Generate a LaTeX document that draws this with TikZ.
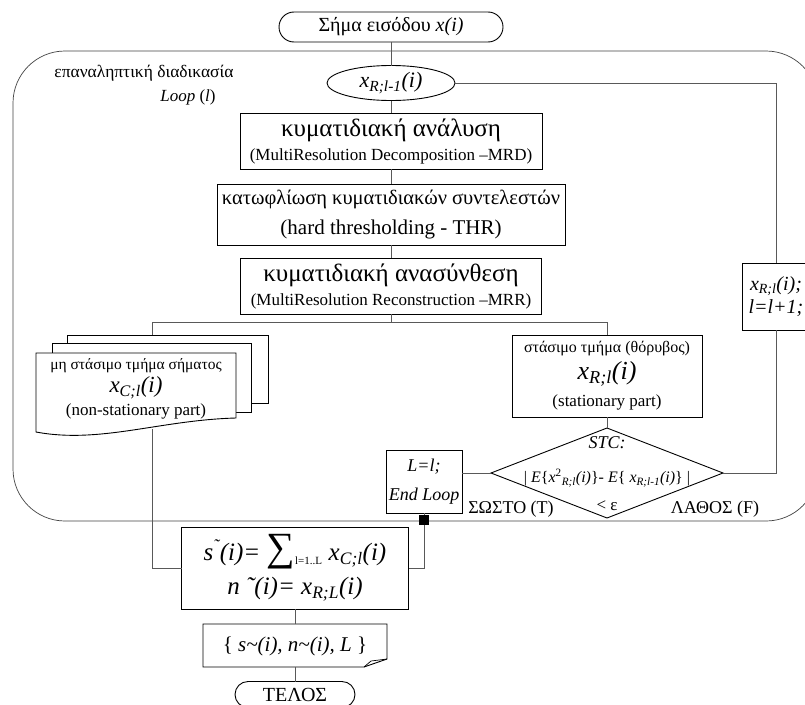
\documentclass[tikz,border=0pt]{standalone}
\usepackage{fontspec}
\setmainfont{Liberation Serif}
\usetikzlibrary{shapes.geometric,shapes.misc}
\newcommand\setfs[1]{\fontsize{#1}{#1}\selectfont}
\begin{document}
\begin{tikzpicture}[x=1pt,y=-1pt,
  every node/.style={inner sep=0pt, outer sep=0pt},
  box/.style={draw, line width=0.9pt, align=center, fill=white},
  conn/.style={draw=black!65, line width=0.6pt},
  loopline/.style={draw=black!75, line width=0.7pt},
  term/.style={draw, line width=0.9pt, rounded rectangle, align=center, fill=white},
  docpage/.style={draw, line width=0.9pt, fill=white},
]
\useasboundingbox (0,0) rectangle (805,704);

% loop container
\draw[loopline, rounded corners=52pt] (13,51) rectangle (818,521);

% start
\node[term, minimum width=224pt, minimum height=30pt, font=\setfs{20}] (start) at (391,27) {Σήμα εισόδου \textit{x(i)}};

% loop labels
\node[font=\setfs{17.5}] (looplab) at (144,73) {επαναληπτική διαδικασία};
\node[font=\setfs{17}] (loopl) at (188,97) {\textit{Loop} (\textit{l})};

% x_{R;l-1}
\node[draw, ellipse, line width=0.9pt, minimum width=128pt, minimum height=35pt, font=\setfs{22}\itshape] (xprev) at (391,83) {x\textsubscript{R;l-1}(i)};

% processing boxes
\node[box, minimum width=302pt, minimum height=56pt, font=\fontsize{17}{24}\selectfont] (mrd) at (391,141)
  {{\setfs{25}κυματιδιακή ανάλυση}\\(MultiResolution Decomposition –MRD)};
\node[box, minimum width=348pt, minimum height=61pt, font=\fontsize{21}{30}\selectfont] (thr) at (391,214.5)
  {{\setfs{20.5}κατωφλίωση κυματιδιακών συντελεστών}\\(hard thresholding - THR)};
\node[box, minimum width=301pt, minimum height=56pt, font=\fontsize{17}{24}\selectfont] (mrr) at (391,286)
  {{\setfs{25}κυματιδιακή ανασύνθεση}\\(MultiResolution Reconstruction –MRR)};

% branch
\coordinate (br) at (391,322);
\coordinate (brL) at (152,322);
\coordinate (brR) at (607,322);
\coordinate (pgtop) at (152,335);
\coordinate (docbot) at (152,429);

% non-stationary document stack
\draw[docpage] (67,335) rectangle (268,403);
\draw[docpage] (52,343) rectangle (251,412);
\draw[docpage] (36,353) -- (236,353) -- (236,418) .. controls (160,420) and (100,444) .. (36,432) -- cycle;
\node[align=center, font=\fontsize{17}{23}\selectfont] (nsp) at (136,389)
  {{\setfs{15.5}μη στάσιμο τμήμα σήματος}\\{\setfs{23}\itshape x\textsubscript{C;l}(i)}\\(non-stationary part)};

% stationary
\node[box, minimum width=190pt, minimum height=82pt, font=\fontsize{17}{27}\selectfont] (stat) at (607,376)
  {{\setfs{16}στάσιμο τμήμα (θόρυβος)}\\{\setfs{26}\itshape x\textsubscript{R;l}(i)}\\(stationary part)};

% decision
\node[draw, diamond, line width=0.9pt, minimum width=232pt, minimum height=90pt] (stc) at (607,473) {};
\node[font=\setfs{18}\itshape] (stclab) at (607,443) {STC:};
\node[font=\setfs{16}] (stcf) at (607,478) {| \textit{E}\{\textit{x}\textsuperscript{2}\textsubscript{\textit{R;l}}\textit{(i)}\}- \textit{E}\{ \textit{x}\textsubscript{\textit{R;l-1}}\textit{(i)}\} |};
\node[font=\setfs{17}] (stceps) at (607,506) {< ε};
\node[font=\setfs{18}] (yes) at (511,509) {ΣΩΣΤΟ (T)};
\node[font=\setfs{18}] (no) at (715,509) {ΛΑΘΟΣ (F)};

% end loop
\node[box, minimum width=76pt, minimum height=63pt, font=\fontsize{18}{29}\selectfont\itshape] (endl) at (424,481.5) {L=l;\\End Loop};

% next iteration
\node[box, minimum width=68pt, minimum height=67pt, font=\fontsize{20}{23}\selectfont\itshape] (lnext) at (776,296.5) {x\textsubscript{R;l}(i);\\l=l+1;};

% result
\node[box, minimum width=227pt, minimum height=82pt, font=\fontsize{25}{34}\selectfont\itshape] (sum) at (295,568)
  {s\textsuperscript{˜}(i)= {\setfs{40}\upshape ∑}\textsubscript{\setfs{11}\upshape l=1..L} x\textsubscript{C;l}(i)\\n ˜(i)= x\textsubscript{R;L}(i)};

\node[fill=black, minimum size=10pt] (sq) at (424,520) {};

% output document
\draw[docpage] (203,624) -- (387,624) -- (387,659) -- (364,667) -- (203,667) -- cycle;
\draw[line width=0.7pt] (364,667) -- (371,661) -- (387,659);
\node[font=\setfs{21}] (outtxt) at (295,646) {\{ \textit{s\textasciitilde(i), n\textasciitilde(i), L} \}};
\coordinate (outtop) at (295,624);
\coordinate (outbot) at (295,667);

% end
\node[term, minimum width=120pt, minimum height=26pt, font=\setfs{20}] (telos) at (295,694.5) {ΤΕΛΟΣ};

% connectors
\draw[conn] (start.south) -- (xprev.north);
\draw[conn] (xprev.south) -- (mrd.north);
\draw[conn] (mrd.south) -- (thr.north);
\draw[conn] (thr.south) -- (mrr.north);
\draw[conn] (mrr.south) -- (br);
\draw[conn] (brL) -- (brR);
\draw[conn] (brR) -- (stat.north);
\draw[conn] (brL) -- (pgtop);
\draw[conn] (stat.south) -- (stc.north);
\draw[conn] (stc.west) -- (stc.west -| endl.east);
\draw[conn] (stc.east) -| (lnext.south);
\draw[conn] (xprev.east) -| (lnext.north);
\draw[conn] (endl.south) -- (sq.north);
\draw[conn] (sq.south) |- (sum.east);
\draw[conn] (docbot) |- (sum.west);
\draw[conn] (sum.south) -- (outtop);
\draw[conn] (outbot) -- (telos.north);
\end{tikzpicture}
\end{document}
